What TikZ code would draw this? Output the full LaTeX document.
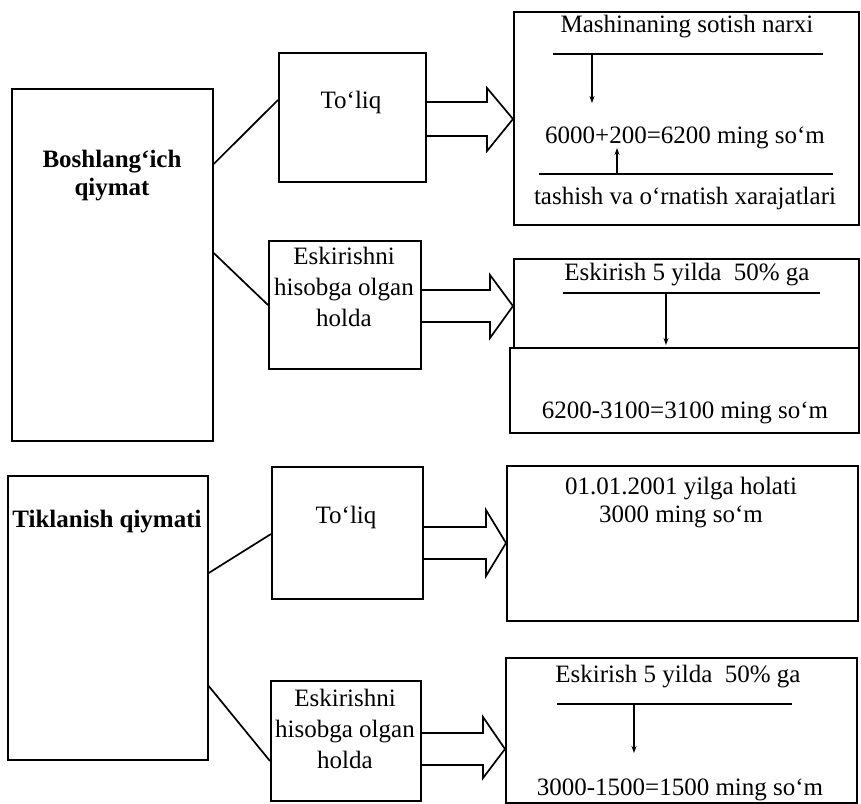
\documentclass[tikz,border=0pt]{standalone}
\usepackage{fontspec}
\setmainfont{Liberation Serif}
\usetikzlibrary{arrows.meta}
\begin{document}
\begin{tikzpicture}[x=1pt,y=-1pt,line width=1.7pt,line join=miter,
  box/.style={draw,rectangle,inner sep=0pt,anchor=north west},
  txt/.style={font=\fontsize{25}{28}\selectfont,align=center,inner sep=0pt},
  btxt/.style={font=\fontsize{25}{28}\selectfont\bfseries,align=center,inner sep=0pt},
  stxt/.style={font=\fontsize{25}{31}\selectfont,align=center,inner sep=0pt},
  down/.style={-{Stealth[length=7pt,width=5pt]},line width=1.3pt}]
\useasboundingbox (0,0) rectangle (861,803);
% boxes
\node[box,minimum width=201pt,minimum height=352pt] (bq) at (11,88) {};
\node[box,minimum width=147pt,minimum height=129pt] (tq1) at (278,52) {};
\node[box,minimum width=152pt,minimum height=128pt] (esk1) at (268,240) {};
\node[box,minimum width=345pt,minimum height=213pt] (r1) at (513,11) {};
\node[box,minimum width=345pt,minimum height=89pt] (r2a) at (513,258) {};
\node[box,minimum width=349pt,minimum height=85pt] (r2b) at (509,347) {};
\node[box,minimum width=200pt,minimum height=284pt] (tk) at (7,475) {};
\node[box,minimum width=151pt,minimum height=132pt] (tq2) at (271,466) {};
\node[box,minimum width=150pt,minimum height=120pt] (esk2) at (270,680) {};
\node[box,minimum width=351pt,minimum height=155pt] (r3) at (506,465) {};
\node[box,minimum width=351pt,minimum height=145pt] (r4) at (505,657) {};
% texts
\node[btxt] (bqt) at (112,176) {Boshlang‘ich\\qiymat};
\node[btxt] (tkt) at (107,522) {Tiklanish qiymati};
\node[txt] (tq1t) at (351,102) {To‘liq};
\node[txt] (tq2t) at (346,517) {To‘liq};
\node[stxt] (esk1t) at (344,287) {Eskirishni\\hisobga olgan\\holda};
\node[stxt] (esk2t) at (345,729) {Eskirishni\\hisobga olgan\\holda};
\node[txt] (r1a) at (687,27) {Mashinaning sotish narxi};
\node[txt] (r1b) at (685,138) {6000+200=6200 ming so‘m};
\node[txt] (r1c) at (685,198) {tashish va o‘rnatish xarajatlari};
\node[txt] (r2t) at (687,275) {Eskirish 5 yilda\ \ 50\% ga};
\node[txt] (r2s) at (685,413) {6200-3100=3100 ming so‘m};
\node[txt] (r3t) at (681,503) {01.01.2001 yilga holati\\3000 ming so‘m};
\node[txt] (r4t) at (678,677) {Eskirish 5 yilda\ \ 50\% ga};
\node[txt] (r4s) at (680,790) {3000-1500=1500 ming so‘m};
% rules and small arrows
\draw (553,54) -- (823,54);
\draw[down] (592,54) -- (592,103);
\draw (539,174) -- (833,174);
\draw[down] (617,174) -- (617,148);
\draw (563,293) -- (820,293);
\draw[down] (666,293) -- (666,345);
\draw (557,704) -- (792,704);
\draw[down] (634,704) -- (634,753);
% connectors
\draw (bq.east |- 0,164) -- (tq1.west |- 0,100);
\draw (bq.east |- 0,253) -- (esk1.west |- 0,305);
\draw (tk.east |- 0,573) -- (tq2.west |- 0,534);
\draw (tk.east |- 0,686) -- (esk2.west |- 0,761);
% hollow arrows
\draw (tq1.east |- 0,102) -- (487,102) -- (487,88) -- (r1.west |- 0,119) -- (487,151) -- (487,136) -- (tq1.east |- 0,136);
\draw (esk1.east |- 0,290) -- (490,290) -- (490,275) -- (r2a.west |- 0,306) -- (490,338) -- (490,322) -- (esk1.east |- 0,322);
\draw (tq2.east |- 0,527) -- (486,527) -- (486,510) -- (r3.west |- 0,543) -- (486,576) -- (486,559) -- (tq2.east |- 0,559);
\draw (esk2.east |- 0,733) -- (483,733) -- (483,717) -- (r4.west |- 0,749) -- (483,778) -- (483,765) -- (esk2.east |- 0,765);
\end{tikzpicture}
\end{document}
